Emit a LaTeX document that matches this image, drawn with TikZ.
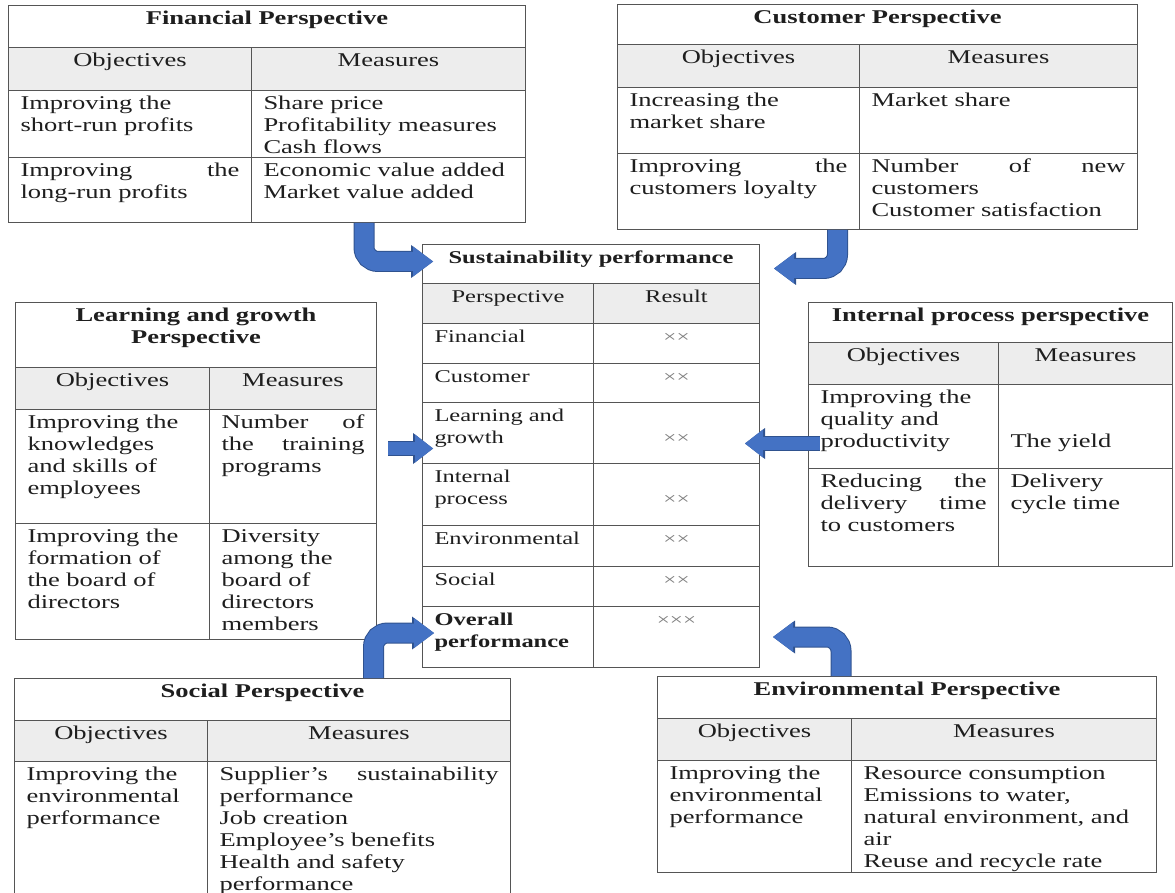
\documentclass[tikz,border=0pt]{standalone}
\usepackage{fontspec}
\setmainfont{Liberation Serif}[FakeStretch=1.36]
\usepackage{tikz}
\usetikzlibrary{arrows.meta, positioning, calc}
\definecolor{Grid}{HTML}{555555}
\definecolor{HeadFill}{HTML}{EDEDED}
\definecolor{Ink}{HTML}{1E1E1E}
\definecolor{ArrowBlue}{HTML}{4472C4}
\definecolor{ArrowEdge}{HTML}{2F528F}
\definecolor{MarkGray}{HTML}{7F7F7F}
\newcommand{\jline}[1]{\makebox[\cellw][s]{#1}}
\newcommand{\resmark}[1]{{\fontsize{17pt}{18pt}\selectfont\color{MarkGray}#1}}

\begin{document}
\begin{tikzpicture}[
    x=1pt, y=-1pt,
    cell/.style 2 args={draw=Grid, line width=1pt, anchor=north west, text=Ink,
      inner xsep=12pt, inner ysep=5pt, text height=14pt, align=left,
      font=\fontsize{19.5pt}{22pt}\selectfont,
      /utils/exec={\pgfmathsetlengthmacro\cellw{#1-24}\pgfmathsetlengthmacro\celld{#2-24}},
      text width=\cellw, text depth=\celld},
    ttl/.style={align=center, font=\fontsize{19.5pt}{22pt}\selectfont\bfseries},
    sttl/.style={align=center, font=\fontsize{18pt}{22pt}\selectfont\bfseries},
    sfont/.style={font=\fontsize{18pt}{22pt}\selectfont},
    hd/.style={fill=HeadFill, align=center},
    res/.style={align=center},
    bentarrow/.style={draw=ArrowBlue, line width=19pt, rounded corners=14pt,
      -{Triangle[length=20pt, width=30pt, line width=0pt]},
      preaction={draw=ArrowEdge, line width=21pt, -{Triangle[length=22pt, width=33pt, line width=0pt]}}},
    flatarrow/.style={draw=ArrowBlue, line width=13pt,
      -{Triangle[length=18pt, width=28pt, line width=0pt]},
      preaction={draw=ArrowEdge, line width=15pt, -{Triangle[length=20pt, width=31pt, line width=0pt]}}}
  ]
  \useasboundingbox (0,0) rectangle (1175,893);

  \node[cell={517}{42}, ttl] (fin-t)  at (8,5)     {Financial Perspective};
  \node[cell={243}{43}, hd]  (fin-h1) at (8,47)    {Objectives};
  \node[cell={274}{43}, hd]  (fin-h2) at (251,47)  {Measures};
  \node[cell={243}{67}]      (fin-a1) at (8,90)    {Improving the\\short-run profits};
  \node[cell={274}{67}]      (fin-b1) at (251,90)  {Share price\\Profitability measures\\Cash flows};
  \node[cell={243}{65}]      (fin-a2) at (8,157)   {\jline{Improving\hfill the}\\long-run profits};
  \node[cell={274}{65}]      (fin-b2) at (251,157) {Economic value added\\Market value added};

  \node[cell={520}{40}, ttl] (cus-t)  at (617,4)   {Customer Perspective};
  \node[cell={242}{43}, hd]  (cus-h1) at (617,44)  {Objectives};
  \node[cell={278}{43}, hd]  (cus-h2) at (859,44)  {Measures};
  \node[cell={242}{66}]      (cus-a1) at (617,87)  {Increasing the\\market share};
  \node[cell={278}{66}]      (cus-b1) at (859,87)  {Market share};
  \node[cell={242}{76}]      (cus-a2) at (617,153) {\jline{Improving\hfill the}\\customers loyalty};
  \node[cell={278}{76}]      (cus-b2) at (859,153) {\jline{Number\hfill of\hfill new}\\customers\\Customer satisfaction};

  \node[cell={337}{39}, sttl]        (sus-t)     at (422,244) {Sustainability performance};
  \node[cell={171}{40}, hd, sfont]   (sus-h1)    at (422,283) {Perspective};
  \node[cell={166}{40}, hd, sfont]   (sus-h2)    at (593,283) {Result};
  \node[cell={171}{40}, sfont]       (sus-fin)   at (422,323) {Financial};
  \node[cell={166}{40}, res]         (sus-fin-r) at (593,323) {\resmark{××}};
  \node[cell={171}{39}, sfont]       (sus-cus)   at (422,363) {Customer};
  \node[cell={166}{39}, res]         (sus-cus-r) at (593,363) {\resmark{××}};
  \node[cell={171}{61}, sfont]       (sus-lg)    at (422,402) {Learning and\\growth};
  \node[cell={166}{61}, res]         (sus-lg-r)  at (593,402) {\mbox{}\\\resmark{××}};
  \node[cell={171}{62}, sfont]       (sus-ip)    at (422,463) {Internal\\process};
  \node[cell={166}{62}, res]         (sus-ip-r)  at (593,463) {\mbox{}\\\resmark{××}};
  \node[cell={171}{41}, sfont]       (sus-env)   at (422,525) {Environmental};
  \node[cell={166}{41}, res]         (sus-env-r) at (593,525) {\resmark{××}};
  \node[cell={171}{40}, sfont]       (sus-soc)   at (422,566) {Social};
  \node[cell={166}{40}, res]         (sus-soc-r) at (593,566) {\resmark{××}};
  \node[cell={171}{61}, sfont]       (sus-ov)    at (422,606) {{\bfseries Overall\\performance}};
  \node[cell={166}{61}, res]         (sus-ov-r)  at (593,606) {\resmark{×××}};

  \node[cell={361}{65}, ttl] (lrn-t)  at (15,302)  {Learning and growth\\Perspective};
  \node[cell={194}{42}, hd]  (lrn-h1) at (15,367)  {Objectives};
  \node[cell={167}{42}, hd]  (lrn-h2) at (209,367) {Measures};
  \node[cell={194}{114}]     (lrn-a1) at (15,409)  {Improving the\\knowledges\\and skills of\\employees};
  \node[cell={167}{114}]     (lrn-b1) at (209,409) {\jline{Number\hfill of}\\\jline{the\hfill training}\\programs};
  \node[cell={194}{116}]     (lrn-a2) at (15,523)  {Improving the\\formation of\\the board of\\directors};
  \node[cell={167}{116}]     (lrn-b2) at (209,523) {Diversity\\among the\\board of\\directors\\members};

  \node[cell={364}{40}, ttl] (int-t)  at (808,302) {Internal process perspective};
  \node[cell={190}{42}, hd]  (int-h1) at (808,342) {Objectives};
  \node[cell={174}{42}, hd]  (int-h2) at (998,342) {Measures};
  \node[cell={190}{84}]      (int-a1) at (808,384) {Improving the\\quality and\\productivity};
  \node[cell={174}{84}]      (int-b1) at (998,384) {\mbox{}\\\mbox{}\\The yield};
  \node[cell={190}{98}]      (int-a2) at (808,468) {\jline{Reducing\hfill the}\\\jline{delivery\hfill time}\\to customers};
  \node[cell={174}{98}]      (int-b2) at (998,468) {Delivery\\cycle time};

  \node[cell={496}{42}, ttl] (soc-t)  at (14,678)  {Social Perspective};
  \node[cell={193}{41}, hd]  (soc-h1) at (14,720)  {Objectives};
  \node[cell={303}{41}, hd]  (soc-h2) at (207,720) {Measures};
  \node[cell={193}{140}]     (soc-a1) at (14,761)  {Improving the\\environmental\\performance};
  \node[cell={303}{140}]     (soc-b1) at (207,761) {\jline{Supplier's\hfill sustainability}\\performance\\Job creation\\Employee's benefits\\Health and safety\\performance};

  \node[cell={499}{42}, ttl] (env-t)  at (657,676) {Environmental Perspective};
  \node[cell={194}{42}, hd]  (env-h1) at (657,718) {Objectives};
  \node[cell={305}{42}, hd]  (env-h2) at (851,718) {Measures};
  \node[cell={194}{112}]     (env-a1) at (657,760) {Improving the\\environmental\\performance};
  \node[cell={305}{112}]     (env-b1) at (851,760) {Resource consumption\\Emissions to water,\\natural environment, and\\air\\Reuse and recycle rate};

  \coordinate (lrn-out) at ([xshift=11pt,yshift=18pt]lrn-b1.east);
  \coordinate (int-out) at ([xshift=12pt,yshift=-17pt]int-a1.west);

  \draw[bentarrow] ([xshift=113pt]fin-b2.south west) |- ([xshift=11pt,yshift=2.5pt]sus-t.west);
  \draw[bentarrow] ([xshift=-21.5pt]cus-b2.south west) |- ([xshift=14pt,yshift=-4.5pt]sus-t.east);
  \draw[flatarrow] (lrn-out) -- ([xshift=11pt]lrn-out -| sus-lg.west);
  \draw[flatarrow] (int-out) -- ([xshift=-15pt]int-out -| sus-lg-r.east);
  \draw[bentarrow] ([xshift=359.5pt]soc-t.north west) |- ([xshift=12pt,yshift=4pt]sus-ov.west);
  \draw[bentarrow] ([xshift=184pt]env-t.north west) |- ([xshift=13pt]sus-ov-r.east);
\end{tikzpicture}
\end{document}
